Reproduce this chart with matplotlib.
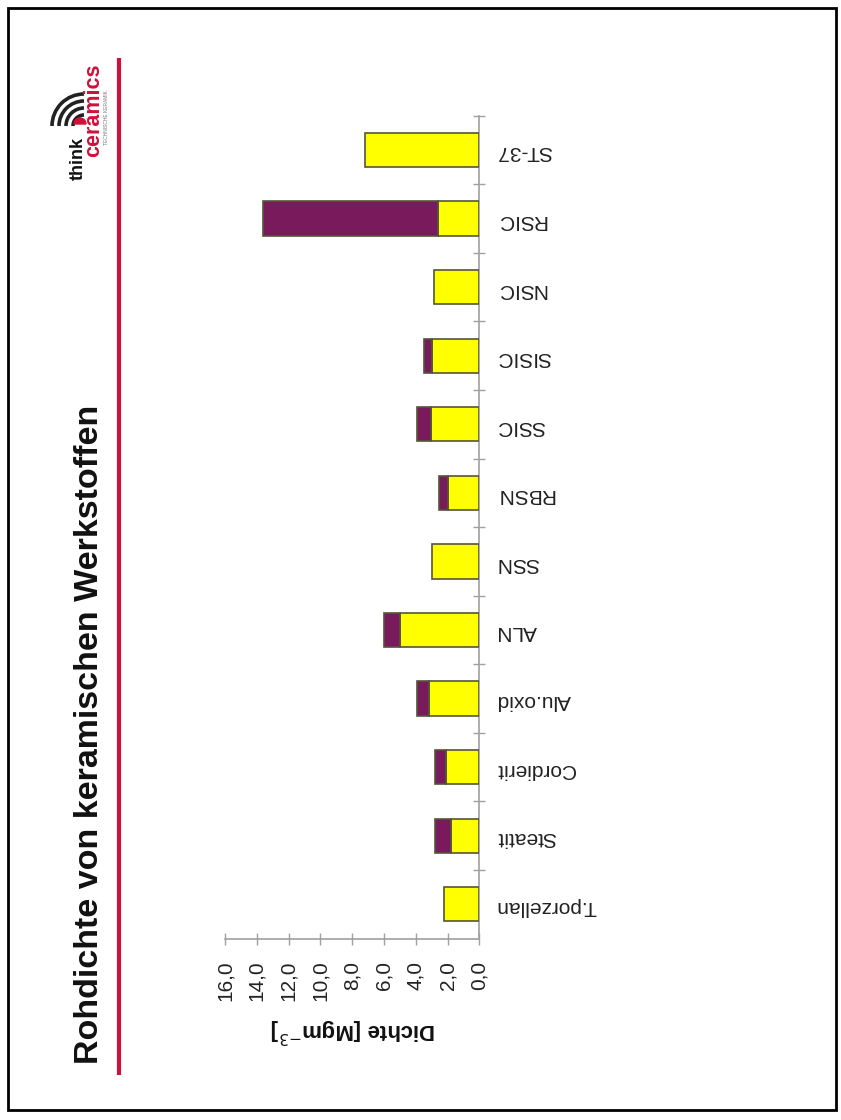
import numpy as np
import matplotlib.pyplot as plt
from matplotlib.patches import Arc, Rectangle, Wedge
from matplotlib.ticker import FixedLocator, FuncFormatter

plt.rcParams['font.family'] = ['Liberation Sans', 'DejaVu Sans']

# Werkstoffe (von unten nach oben) und Rohdichte in Mg/m^3
werkstoffe = ['T.porzellan', 'Steatit', 'Cordierit', 'Alu.oxid', 'ALN', 'SSN',
              'RBSN', 'SSIC', 'SISIC', 'NSIC', 'RSIC', 'ST-37']
dichte = [2.25, 1.8, 2.1, 3.15, 5.0, 3.0, 1.95, 3.05, 3.0, 2.85, 2.6, 7.2]
zusatz = [0.0, 1.0, 0.7, 0.8, 1.0, 0.0, 0.6, 0.85, 0.5, 0.0, 11.0, 0.0]
x_ticks = [0, 2, 4, 6, 8, 10, 12, 14, 16]

GELB = '#FFFF00'
LILA = '#781A5C'
RAND = '#55553a'
ACHSE = '#a0a0a0'
ROT = '#d0103a'

W, H = 841, 1120
fig = plt.figure(figsize=(W / 100, H / 100), dpi=100)

# Folienhintergrund: Rahmen, Titel, rote Linie, Logo (Pixelkoordinaten)
bg = fig.add_axes([0, 0, 1, 1], zorder=-1)
bg.set_xlim(0, W)
bg.set_ylim(H, 0)
bg.axis('off')
bg.add_patch(Rectangle((8, 8), 828, 1102, fill=False, edgecolor='black', linewidth=2))
bg.plot([119, 119], [58, 1075], color=ROT, linewidth=3, solid_capstyle='butt')
bg.text(90, 734, 'Rohdichte von keramischen Werkstoffen', rotation=90,
        ha='center', va='center', fontsize=24.5, fontweight='bold', color='#111111')

# Logo "think ceramics"
for r in [11, 18, 25, 32]:
    bg.add_patch(Arc((84, 126), 2 * r, 2 * r, theta1=180, theta2=270,
                     color='#222222', linewidth=2.6))
bg.add_patch(Wedge((80, 124), 6, 180, 360, color=ROT))
bg.text(78, 158, 'think', rotation=90, ha='center', va='center',
        fontsize=13, fontweight='bold', color='#111111')
bg.text(94, 110, 'ceramics', rotation=90, ha='center', va='center',
        fontsize=15.5, fontweight='bold', color=ROT)
bg.text(107, 118, 'TECHNISCHE KERAMIK', rotation=90, ha='center', va='center',
        fontsize=3.5, color='#777777')

# Diagramm
ax = fig.add_axes([225 / W, 1 - 938.5 / H, 254.5 / W, (938.5 - 115.7) / H])
ax.set_facecolor('none')
y = np.arange(len(werkstoffe))
ax.barh(y, dichte, height=0.5, color=GELB, edgecolor=RAND, linewidth=1.2, zorder=3)
idx = [i for i, v in enumerate(zusatz) if v > 0]
ax.barh(y[idx], [zusatz[i] for i in idx], left=[dichte[i] for i in idx],
        height=0.5, color=LILA, edgecolor=RAND, linewidth=1.2, zorder=3)

ax.set_xlim(16, 0)
ax.set_ylim(-0.5, len(werkstoffe) - 0.5)

for s in ['top', 'left']:
    ax.spines[s].set_visible(False)
for s in ['right', 'bottom']:
    ax.spines[s].set_color(ACHSE)
    ax.spines[s].set_linewidth(1.2)

ax.xaxis.set_major_locator(FixedLocator(x_ticks))
ax.xaxis.set_major_formatter(FuncFormatter(lambda v, p: f'{v:.1f}'.replace('.', ',')))
ax.tick_params(axis='x', direction='inout', length=8, width=1, color=ACHSE,
               labelrotation=90, labelsize=15, labelcolor='#222222', pad=12)

ax.yaxis.tick_right()
ax.set_yticks(y)
ax.set_yticklabels(werkstoffe)
ax.set_yticks(np.arange(len(werkstoffe)) + 0.5, minor=True)
ax.tick_params(axis='y', which='major', length=0, pad=12, labelsize=15,
               labelcolor='#222222', labelrotation=180)
ax.tick_params(axis='y', which='minor', direction='inout', length=8, width=1,
               color=ACHSE)
for lbl in ax.get_yticklabels():
    lbl.set_ha('left')

fig.text(353 / W, 1 - 1030 / H, 'Dichte [Mgm$^{-3}$]', rotation=180,
         ha='center', va='center', fontsize=16, fontweight='bold', color='#111111')

fig.savefig('out.png', dpi=100, facecolor='white')
